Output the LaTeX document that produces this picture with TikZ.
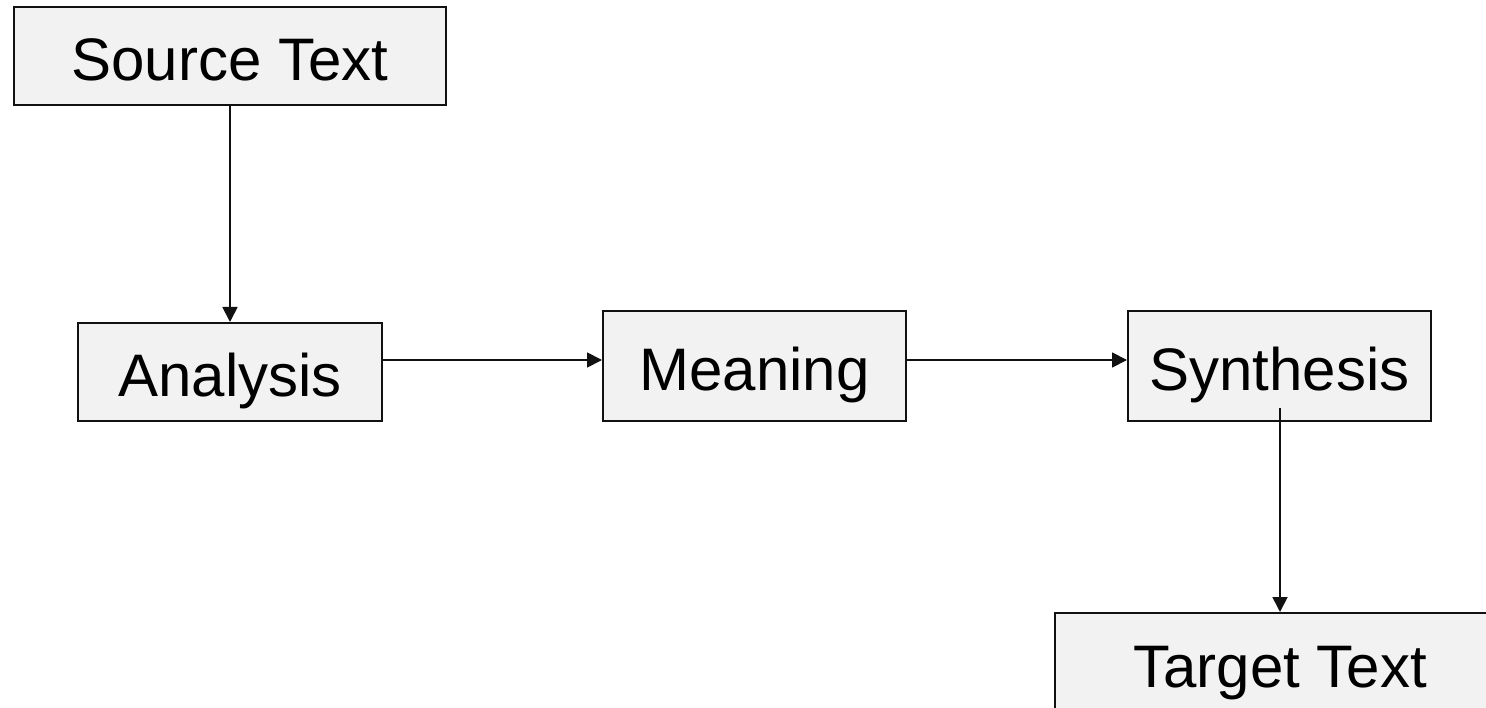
\documentclass[tikz,border=0pt]{standalone}
\usepackage{fontspec}
\setmainfont{Liberation Sans}
\usetikzlibrary{arrows.meta,calc}
\definecolor{boxfill}{HTML}{F2F2F2}
\definecolor{boxline}{HTML}{111111}
\begin{document}
\begin{tikzpicture}[x=1pt,y=-1pt,
  stage/.style={draw=boxline, line width=2pt, fill=boxfill,
    rectangle, inner sep=0pt, text height=56pt, text depth=6pt,
    font=\fontsize{60}{72}\selectfont},
  flow/.style={draw=boxline, line width=1.8pt,
    -{Triangle[length=15pt,width=15pt]}}]
  \useasboundingbox (0,0) rectangle (1486,708);
  \clip (0,0) rectangle (1486,708);

  % process stages
  \node[stage, minimum width=432pt, minimum height=98pt]  (src) at (230,56)    {Source Text};
  \node[stage, minimum width=304pt, minimum height=98pt]  (an)  at (230,372)   {Analysis};
  \node[stage, minimum width=303pt, minimum height=110pt] (me)  at (754.5,366) {Meaning};
  \node[stage, minimum width=303pt, minimum height=110pt] (sy)  at (1279.5,366) {Synthesis};
  \node[stage, minimum width=450pt, minimum height=98pt]  (tg)  at (1280,662)  {Target Text};

  % level of the horizontal flow and start of the final drop
  \coordinate (row) at (0,360);
  \coordinate (drop) at (1280,408);

  % connectors
  \draw[flow] (src.south) -- (an.north);
  \draw[flow] (an.east |- row) -- (me.west |- row);
  \draw[flow] (me.east |- row) -- (sy.west |- row);
  \draw[flow] (drop) -- (tg.north);
\end{tikzpicture}
\end{document}
